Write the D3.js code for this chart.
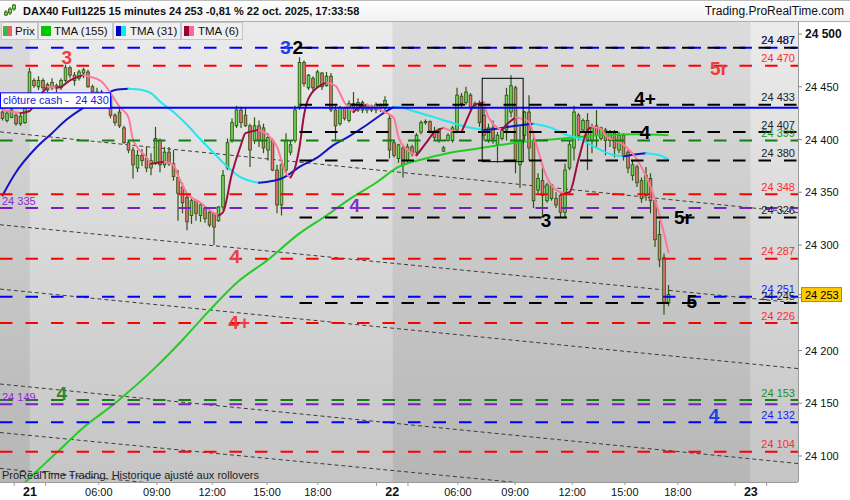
<!DOCTYPE html>
<html><head><meta charset="utf-8">
<script src="https://cdn.jsdelivr.net/npm/d3@7/dist/d3.min.js"></script>
<style>body{margin:0;background:#fff;}svg{display:block;font-family:"Liberation Sans",Arial,sans-serif;}</style>
</head><body><svg id="c" width="850" height="500"></svg>
<script>
// ---------------- DATA ----------------
const opens=[24426,24418,24421,24423,24415,24416,24437,24456,24450,24456,
24452,24449,24451,24449,24456,24468,24461,24458,24463,24464,
24450,24439,24445,24432,24441,24423,24426,24411,24397,24390,
24373,24385,24382,24373,24378,24399,24376,24388,24377,24364,
24355,24345,24328,24342,24328,24335,24331,24330,24323,24336,
24373,24399,24413,24428,24423,24413,24399,24413,24411,24390,
24399,24371,24338,24371,24388,24399,24431,24473,24449,24458,
24450,24463,24451,24460,24428,24415,24430,24418,24434,24428,
24435,24428,24432,24428,24433,24430,24420,24397,24382,24392,
24380,24393,24388,24407,24416,24417,24408,24409,24389,24399,
24399,24409,24441,24435,24442,24432,24434,24423,24399,24411,
24395,24401,24409,24426,24449,24376,24404,24426,24399,24352,
24361,24342,24357,24344,24347,24331,24373,24392,24423,24409,
24418,24399,24413,24401,24409,24399,24406,24390,24404,24388,
24366,24374,24361,24347,24363,24342,24310,24288,24245];
const highs=[24430,24428,24431,24425,24426,24437,24468,24458,24460,24458,
24454,24458,24453,24458,24471,24470,24464,24466,24468,24466,
24452,24449,24447,24445,24442,24425,24430,24413,24399,24393,
24390,24391,24393,24387,24412,24401,24393,24393,24390,24371,
24359,24349,24345,24343,24340,24336,24333,24331,24337,24371,
24401,24420,24432,24431,24430,24415,24421,24418,24415,24406,
24401,24376,24380,24406,24399,24432,24478,24475,24462,24460,
24466,24464,24464,24463,24432,24432,24431,24437,24445,24439,
24437,24434,24433,24435,24434,24441,24423,24399,24396,24395,
24396,24395,24406,24418,24419,24418,24412,24411,24394,24406,
24413,24449,24444,24450,24444,24436,24437,24431,24415,24418,
24407,24411,24449,24461,24451,24412,24427,24442,24407,24368,
24377,24359,24358,24350,24349,24377,24399,24432,24425,24420,
24425,24415,24428,24412,24411,24409,24409,24407,24406,24390,
24380,24376,24364,24374,24368,24344,24323,24292,24262];
const lows=[24418,24416,24420,24413,24413,24415,24435,24449,24447,24447,
24445,24447,24445,24447,24454,24458,24451,24456,24458,24449,
24442,24435,24435,24430,24420,24413,24411,24396,24387,24363,
24369,24375,24369,24366,24376,24369,24373,24375,24361,24323,
24330,24314,24320,24323,24322,24321,24317,24300,24322,24333,
24371,24397,24411,24411,24412,24374,24396,24393,24387,24380,
24370,24330,24328,24368,24385,24397,24428,24450,24447,24445,
24449,24447,24450,24426,24399,24413,24418,24416,24428,24426,
24425,24425,24426,24425,24426,24426,24382,24383,24378,24364,
24378,24384,24385,24405,24414,24406,24399,24397,24388,24398,
24397,24406,24430,24433,24426,24429,24412,24399,24397,24396,
24378,24399,24399,24421,24368,24354,24399,24380,24335,24349,
24328,24340,24342,24335,24326,24326,24371,24380,24399,24407,
24371,24387,24393,24399,24385,24393,24383,24387,24380,24368,
24361,24355,24340,24342,24330,24298,24279,24234,24242];
const closes=[24420,24425,24428,24415,24422,24430,24464,24451,24456,24449,
24447,24454,24449,24456,24468,24461,24456,24464,24466,24450,
24445,24445,24437,24442,24423,24416,24413,24397,24390,24376,
24385,24380,24373,24380,24401,24376,24388,24377,24365,24349,
24340,24322,24342,24330,24338,24325,24319,24317,24336,24366,
24397,24416,24428,24416,24413,24390,24413,24399,24392,24402,
24371,24338,24376,24399,24395,24428,24473,24453,24461,24449,
24464,24450,24460,24428,24413,24430,24420,24434,24430,24435,
24428,24432,24428,24433,24430,24437,24390,24385,24395,24376,
24393,24387,24404,24416,24417,24408,24402,24399,24392,24404,
24411,24442,24434,24445,24430,24434,24416,24404,24411,24401,
24404,24409,24442,24451,24380,24399,24426,24392,24342,24363,
24347,24357,24344,24338,24331,24371,24395,24426,24404,24418,
24399,24411,24404,24411,24399,24407,24392,24404,24385,24373,
24376,24359,24344,24366,24342,24305,24286,24246,24253];

// moving averages (bar index, value)
const tma6Bars=[0,4,6,8,10,12,13,15,18,19,22,24,26,28,29,32,33,36,38,39,41,44,46,48,49,51,53,54,57,59,61,63,64,65,66,67,68,71,72,74,76,78,79,81,83,85,87,88,90,92,94,96,98,100,102,103,105,107,108,111,112,114,115,117,118,121,123,125,126,128,130,131,133,134,138,141,145,148];
const tma6Vals=[24428,24425,24427,24440,24450,24449,24450,24456,24461,24460,24455,24444,24431,24421,24400,24383,24377,24379,24376,24366,24349,24340,24333,24328,24331,24368,24395,24406,24409,24404,24393,24368,24364,24373,24393,24423,24439,24452,24454,24451,24435,24426,24430,24433,24430,24426,24420,24402,24390,24385,24396,24407,24411,24408,24407,24417,24433,24435,24421,24409,24414,24421,24420,24417,24404,24364,24352,24349,24350,24381,24409,24412,24410,24404,24395,24381,24343,24293];
const tma31Bars=[0,3,7,11,14,18,22,25,28,31,33,35,38,41,44,47,50,53,57,59,62,64,66,70,73,77,81,85,87,89,92,96,99,103,107,111,114,118,122,125,128,132,136,138,141,143,146,148];
const tma31Vals=[24347,24369,24390,24406,24418,24430,24440,24447,24448,24447,24444,24436,24426,24414,24400,24387,24374,24364,24359,24360,24363,24368,24374,24383,24393,24403,24414,24426,24431,24430,24426,24421,24417,24412,24409,24411,24413,24415,24411,24405,24401,24392,24385,24384,24386,24387,24385,24381];
const tma155Bars=[0,5,12,18,25,34,40,46,52,59,66,72,77,83,88,94,99,105,111,116,122,127,133,141,148];
const tma155Vals=[24054,24075,24103,24127,24150,24184,24210,24238,24264,24286,24311,24328,24343,24359,24374,24382,24387,24391,24395,24398,24400,24402,24404,24405,24404];

// horizontal levels
const redLevels=[24470,24348,24287,24226,24104];
const blueLevels=[24487,24251,24132];
const greenLevels=[24399,24153];
const purpleLevels=[24335,24149];
const blackLevels=[24487,24433,24407,24380,24326,24245];
const blackStartBar=66;
const cashClose=24430;
const lastPrice=24253;

// dotted trend channel lines (value at bar 0 and at bar 160)
const trendBars=[0,160];
const trendStart=[24407,24319,24258,24168,24122,24088];
const trendEnd=[24338,24252,24190,24100,24056,24022];

// box
const boxBars=[106.6,115.7];
const boxPrices=[24458,24379];

// annotations
const annoText=["3","3","2","5r","4+","4","4","3","5r","4","5","4+","4","4"];
const annoKind=["red","blue","black","red","black","black","purple","black","black","red","black","red","green","blue"];
const annoBar=[14.3,62.9,65.6,159.2,142.8,142.8,78.3,120.8,151.2,51.7,153.2,52.6,13.2,158.1];
const annoPrice=[24478,24488,24488,24468,24439,24407,24338,24324,24327,24290,24247,24227,24160,24139];

// axes
const xTickLabels=["21","06:00","09:00","12:00","15:00","18:00","22","06:00","09:00","12:00","15:00","18:00","23"];
const xTickBars=[6.1,21.4,34.3,46.6,58.8,70.1,86.6,101.2,113.9,126.6,138.3,150.1,166.3];
const yTicks=[24100,24150,24200,24250,24300,24350,24400,24450,24500];

const title="DAX40 Full1225 15 minutes 24 253 -0,81 % 22 oct. 2025, 17:33:58";
const site="Trading.ProRealTime.com";
const legendNames=["Prix","TMA (155)","TMA (31)","TMA (6)"];
const footer="ProRealTime Trading  Historique ajusté aux rollovers";
const cashLabel="clôture cash - ";

// ---------------- DRAW ----------------
const PL=0,PR=798,PT=22,PB=482;
const svg=d3.select('#c');
const defs=svg.append('defs');
function grad(id,c1,c2){const g=defs.append('linearGradient').attr('id',id).attr('x1',0).attr('y1',0).attr('x2',0).attr('y2',1);
 g.append('stop').attr('offset','0%').attr('stop-color',c1);g.append('stop').attr('offset','100%').attr('stop-color',c2);}
grad('gLight','#ebebeb','#c5c5c5');
grad('gDark','#dcdcdc','#b6b6b6');
grad('gHead','#ffffff','#f1f1f1');
defs.append('clipPath').attr('id','clip').append('rect').attr('x',PL).attr('y',PT).attr('width',PR-PL).attr('height',PB-PT);

const n=closes.length;
const x=d3.scaleLinear().domain([0,n-1]).range([2.5,2.5+(n-1)*4.5]);
const y=d3.scaleLinear().domain([24100,24500]).range([456,34]);
const loc=d3.formatLocale({decimal:",",thousands:" ",grouping:[3],currency:["",""]});
const fmt=loc.format(",d");
const COL={red:"#ff0000",blue:"#0000ff",green:"#108010",purple:"#7a1fc0",black:"#000000"};
const TXT={red:"#ff2a2a",blue:"#1a1aff",green:"#1f8f1f",purple:"#8a2bd0",black:"#222222"};
const ANN={red:"#ee3b3b",blue:"#1f3fe6",green:"#2a8a2a",purple:"#8a2bd0",black:"#000000"};

// plot background bands
const dayIdx=xTickLabels.map((l,i)=>l.indexOf(':')<0?i:-1).filter(i=>i>=0);
const edges=[PL].concat(dayIdx.map(i=>x(xTickBars[i]))).concat([PR]);
for(let i=0;i<edges.length-1;i++){
  svg.append('rect').attr('x',edges[i]).attr('y',PT).attr('width',edges[i+1]-edges[i]).attr('height',PB-PT)
   .attr('fill',i%2===0?'url(#gDark)':'url(#gLight)');
}
const plot=svg.append('g').attr('clip-path','url(#clip)');

// trend lines
trendStart.forEach((v0,k)=>{
  const v1=trendEnd[k];
  const slope=(v1-v0)/(trendBars[1]-trendBars[0]);
  const b0=x.invert(PL), b1=x.invert(PR);
  plot.append('line').attr('x1',PL).attr('x2',PR)
   .attr('y1',y(v0+slope*(b0-trendBars[0]))).attr('y2',y(v0+slope*(b1-trendBars[0])))
   .attr('stroke','#3c3c3c').attr('stroke-width',1).attr('stroke-dasharray','4,3');
});

// candles
const cg=plot.append('g');
closes.forEach((c,i)=>{
  const o=opens[i],cx=x(i);
  cg.append('line').attr('x1',cx).attr('x2',cx).attr('y1',y(highs[i])).attr('y2',y(lows[i])).attr('stroke','#2b5513').attr('stroke-width',1.2);
  const top=y(Math.max(o,c)),bot=y(Math.min(o,c));
  cg.append('rect').attr('x',cx-1.3).attr('width',2.6).attr('y',top).attr('height',Math.max(1,bot-top))
   .attr('fill',c>=o?'#6fdc4f':'#ea7373').attr('stroke','#2b5513').attr('stroke-width',0.9);
});

// moving averages
function drawMA(bars,vals,upC,downC,w){
  const pts=bars.map((b,i)=>[x(b),y(vals[i])]);
  const line=d3.line().curve(d3.curveMonotoneX);
  if(!downC){plot.append('path').attr('d',line(pts)).attr('fill','none').attr('stroke',upC).attr('stroke-width',w);return;}
  const runs=[];let cur=[pts[0]],dir=null;
  for(let i=1;i<pts.length;i++){
    const d=vals[i]>=vals[i-1]?'up':'down';
    if(dir===null||d===dir){cur.push(pts[i]);dir=d;}
    else{runs.push({dir,pts:cur});cur=[pts[i-1],pts[i]];dir=d;}
  }
  runs.push({dir,pts:cur});
  runs.forEach(r=>plot.append('path').attr('d',line(r.pts)).attr('fill','none').attr('stroke',r.dir==='up'?upC:downC).attr('stroke-width',w).attr('stroke-linecap','round'));
}
drawMA(tma155Bars,tma155Vals,'#22cc22',null,2);
drawMA(tma31Bars,tma31Vals,'#1414c0','#22e6f0',2);
drawMA(tma6Bars,tma6Vals,'#9a1040','#ff7799',2);

// levels
function level(v,kind,startX,offset){
  plot.append('line').attr('x1',startX).attr('x2',PR).attr('y1',y(v)).attr('y2',y(v))
   .attr('stroke',COL[kind]).attr('stroke-width',2).attr('stroke-dasharray','12.5,13').attr('stroke-dashoffset',offset||0);
}
greenLevels.forEach(v=>level(v,'green',PL));
purpleLevels.forEach(v=>level(v,'purple',PL));
redLevels.forEach(v=>level(v,'red',PL));
blueLevels.forEach(v=>level(v,'blue',PL));
blackLevels.forEach(v=>level(v,'black',x(blackStartBar)));
plot.append('line').attr('x1',PL).attr('x2',PR).attr('y1',y(cashClose)).attr('y2',y(cashClose)).attr('stroke','#0000ff').attr('stroke-width',2);

// box
plot.append('rect').attr('x',x(boxBars[0])).attr('y',y(boxPrices[0])).attr('width',x(boxBars[1])-x(boxBars[0])).attr('height',y(boxPrices[1])-y(boxPrices[0]))
 .attr('fill','none').attr('stroke','#000').attr('stroke-width',1);

// right-side level labels inside plot
function rlabel(v,kind,bold){plot.append('text').attr('x',795).attr('y',y(v)-3.5).attr('text-anchor','end').attr('font-size',11).attr('font-weight',bold?'bold':'normal').attr('fill',TXT[kind]).text(fmt(v));}
redLevels.forEach(v=>rlabel(v,'red'));
greenLevels.forEach(v=>rlabel(v,'green'));
blueLevels.forEach(v=>rlabel(v,'blue'));
blackLevels.forEach(v=>rlabel(v,'black'));
purpleLevels.forEach(v=>plot.append('text').attr('x',2).attr('y',y(v)-3.5).attr('font-size',11).attr('fill',TXT.purple).text(fmt(v)));

// cash close box
const cb=plot.append('g');
cb.append('rect').attr('x',0.5).attr('y',y(cashClose)-15).attr('width',110).attr('height',15).attr('fill','#fff').attr('stroke','#0000ff');
cb.append('text').attr('x',3).attr('y',y(cashClose)-3.5).attr('font-size',11).attr('fill','#2020e0').attr('xml:space','preserve').text(cashLabel+' '+fmt(cashClose));

// annotations
annoText.forEach((t,i)=>{
  plot.append('text').attr('x',x(annoBar[i])).attr('y',y(annoPrice[i])+7).attr('text-anchor','middle')
   .attr('font-size',19).attr('font-weight','bold').attr('fill',ANN[annoKind[i]]).text(t);
});

// footer text
plot.append('text').attr('x',2).attr('y',479).attr('font-size',11).attr('fill','#222').attr('xml:space','preserve').text(footer);

// header
svg.append('rect').attr('x',0).attr('y',0).attr('width',850).attr('height',22).attr('fill','url(#gHead)');
svg.append('line').attr('x1',0).attr('x2',850).attr('y1',0.5).attr('y2',0.5).attr('stroke','#bbb');
svg.append('line').attr('x1',0).attr('x2',850).attr('y1',21.5).attr('y2',21.5).attr('stroke','#b0b0b0');
const icon=svg.append('g');
[[6,10,16,12,15],[10,7,15,9,13],[14,4,11,5,9]].forEach(c=>{
  icon.append('line').attr('x1',c[0]).attr('x2',c[0]).attr('y1',c[1]).attr('y2',c[2]).attr('stroke','#2b5513');
  icon.append('rect').attr('x',c[0]-1.5).attr('y',c[3]).attr('width',3).attr('height',c[4]-c[3]).attr('fill','#6fdc4f').attr('stroke','#2b5513').attr('stroke-width',0.8);
});
svg.append('text').attr('x',23).attr('y',15).attr('font-size',11).attr('font-weight','bold').attr('fill','#111').text(title);
svg.append('text').attr('x',844).attr('y',15).attr('font-size',12).attr('text-anchor','end').attr('fill','#111').text(site);

// legend tabs (overlaid on plot top)
const tabs=[[1,36],[38,74],[113,67],[181,61]];
const tabText=[15,54,130,198];
tabs.forEach((t,i)=>{
  svg.append('rect').attr('x',t[0]+0.5).attr('y',22.5).attr('width',t[1]).attr('height',17).attr('fill','#efefef').attr('stroke','#c6c6c6');
  svg.append('text').attr('x',tabText[i]).attr('y',35).attr('font-size',11.5).attr('fill','#111').text(legendNames[i]);
});
const sw=[[3,5,'#3cb83c'],[8,4,'#e06464'],[41,10,'#00c800'],[116,5,'#0000cc'],[121,5,'#00f0f0'],[184,5,'#990033'],[189,5,'#ff6699']];
sw.forEach(s=>svg.append('rect').attr('x',s[0]).attr('y',26).attr('width',s[1]).attr('height',10).attr('fill',s[2]));

// right axis
svg.append('rect').attr('x',PR).attr('y',PT).attr('width',850-PR).attr('height',PB-PT).attr('fill','#fff');
svg.append('line').attr('x1',PR+0.5).attr('x2',PR+0.5).attr('y1',PT).attr('y2',PB).attr('stroke','#9a9a9a');
yTicks.forEach((v,i)=>{
  svg.append('line').attr('x1',PR).attr('x2',PR+4).attr('y1',y(v)).attr('y2',y(v)).attr('stroke','#888');
  if(Math.abs(y(v)-y(lastPrice))<12) return; // hidden behind last-price box
  const top=i===yTicks.length-1;
  svg.append('text').attr('x',805).attr('y',y(v)+4).attr('font-size',top?12:11).attr('font-weight',top?'bold':'normal').attr('fill','#111').text(fmt(v));
});
// last price box
svg.append('line').attr('x1',PR).attr('x2',PR+4).attr('y1',y(lastPrice)).attr('y2',y(lastPrice)).attr('stroke','#888');
svg.append('rect').attr('x',801.5).attr('y',y(lastPrice)-7).attr('width',40).attr('height',14).attr('fill','#ffcc00').attr('stroke','#b08c00');
svg.append('text').attr('x',805).attr('y',y(lastPrice)+4).attr('font-size',11).attr('fill','#000').text(fmt(lastPrice));

// bottom axis
svg.append('rect').attr('x',0).attr('y',PB).attr('width',850).attr('height',500-PB).attr('fill','#fff');
svg.append('line').attr('x1',PL).attr('x2',PR).attr('y1',PB+0.5).attr('y2',PB+0.5).attr('stroke','#9a9a9a');
xTickLabels.forEach((l,i)=>{
  const day=l.indexOf(':')<0;
  const px=x(xTickBars[i]);
  if(day){
    [-3.5,3.5].forEach(d=>svg.append('line').attr('x1',x(xTickBars[i]+d)).attr('x2',x(xTickBars[i]+d)).attr('y1',PB).attr('y2',PB+4).attr('stroke','#999'));
  } else {
    svg.append('line').attr('x1',px).attr('x2',px).attr('y1',PB).attr('y2',PB+3).attr('stroke','#999');
  }
  svg.append('text').attr('x',px).attr('y',496).attr('text-anchor','middle').attr('font-size',day?12.5:11).attr('font-weight',day?'bold':'normal').attr('fill','#111').text(l);
});
</script></body></html>
